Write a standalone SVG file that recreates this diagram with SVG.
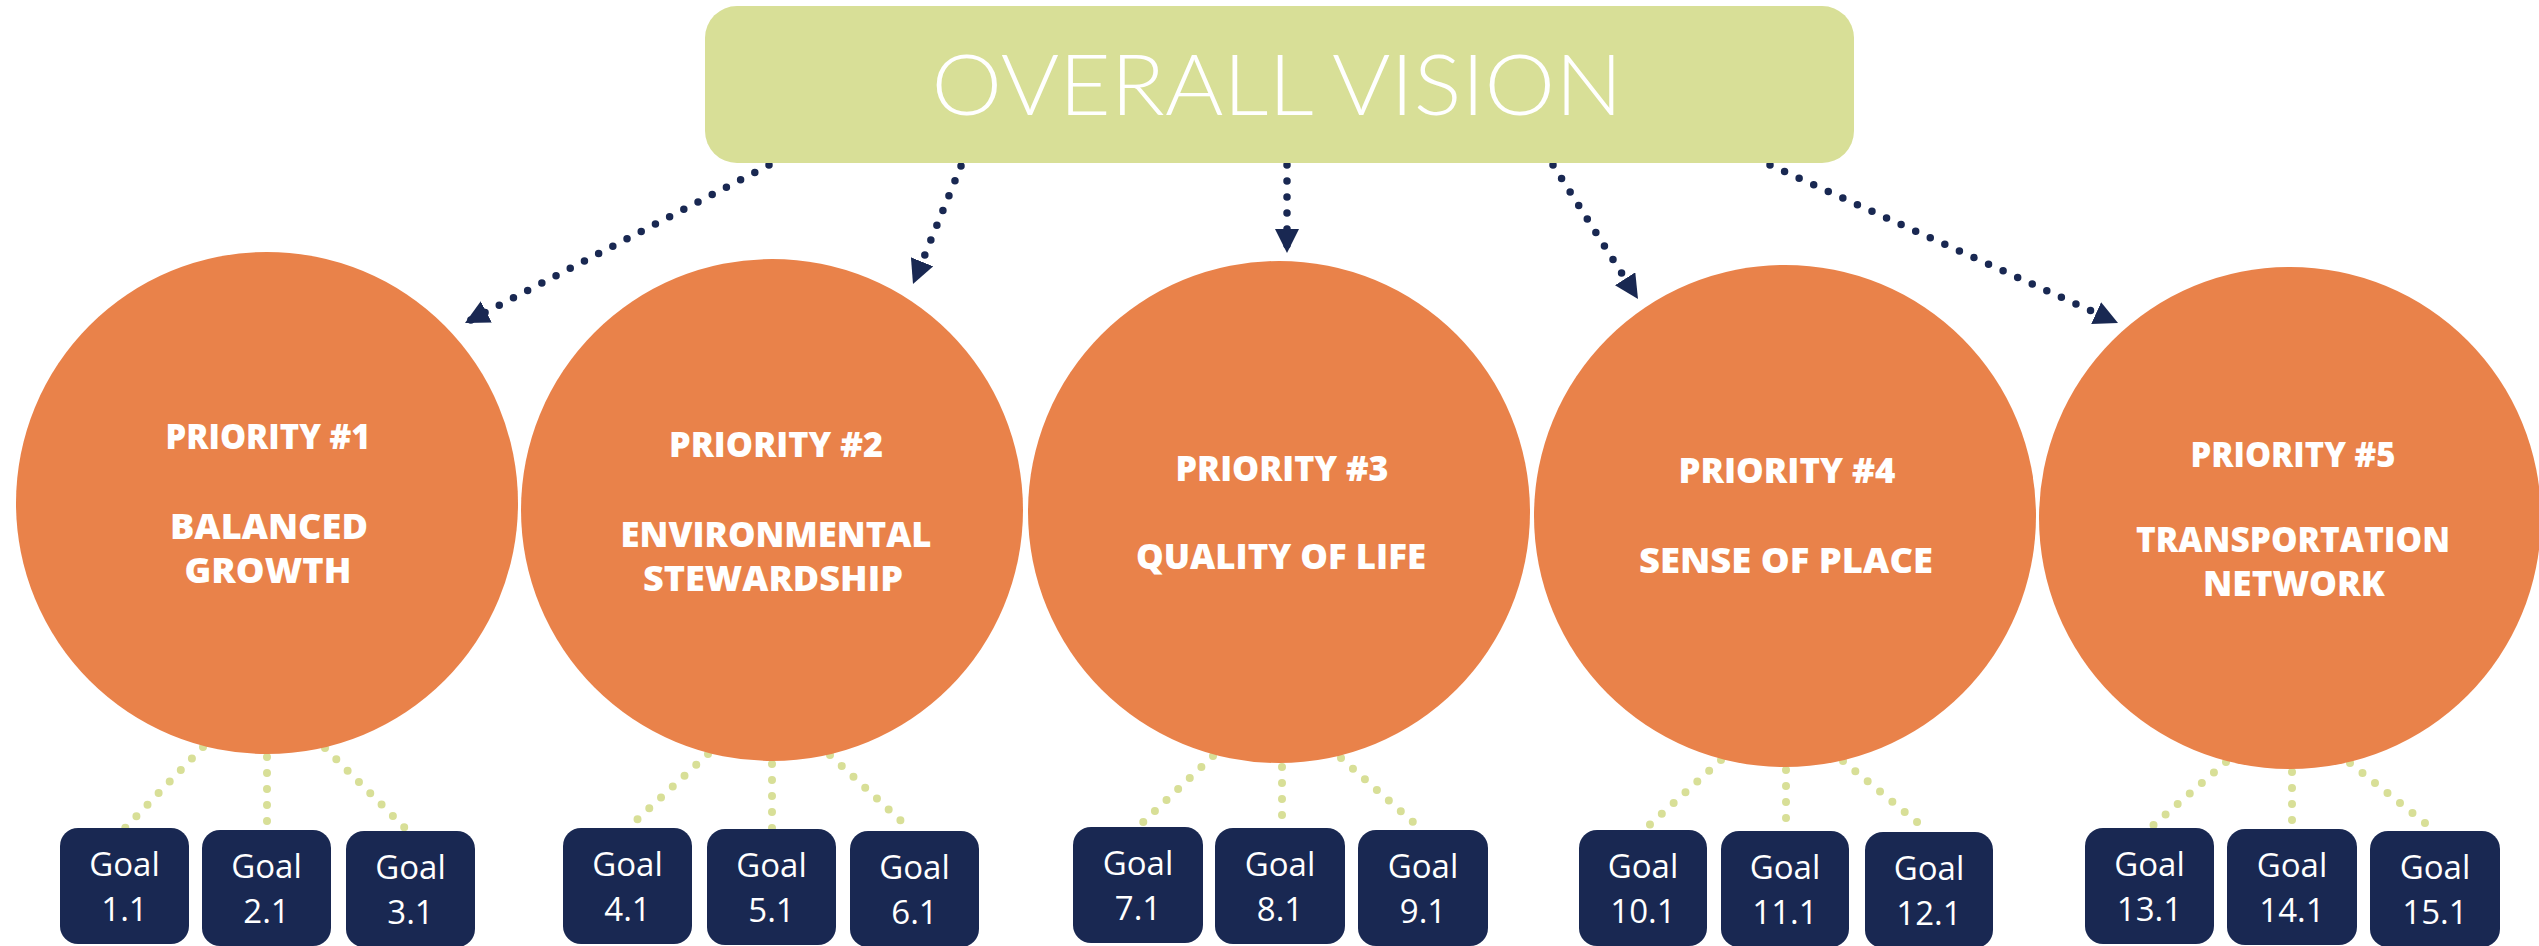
<svg xmlns="http://www.w3.org/2000/svg" width="2539" height="946" viewBox="0 0 2539 946">
<style>
.bg{fill:#ffffff}
.vision{fill:#d8df97}
.vtext{fill:#ffffff;font-family:Lato,"Open Sans","Liberation Sans",sans-serif;font-weight:300;font-size:84px}
.prio{fill:#e9824a}
.ptext{fill:#ffffff;font-family:"Open Sans","Liberation Sans",sans-serif;font-weight:800;font-size:36px}
.goal{fill:#192852}
.gtext{fill:#ffffff;font-family:"Open Sans","Liberation Sans",sans-serif;font-weight:400;font-size:33px}
.arrow{fill:none;stroke:#192852;stroke-width:7.5;stroke-linecap:round;stroke-dasharray:0 16;marker-end:url(#head)}
.link{fill:none;stroke:#d8df97;stroke-width:8;stroke-linecap:round;stroke-dasharray:0 16}
</style>
<defs>
<marker id="head" markerUnits="userSpaceOnUse" markerWidth="24" markerHeight="24" viewBox="0 0 24 24" refX="24" refY="12" orient="auto">
<path d="M0,0 L24,12 L0,24 Z" fill="#192852"/>
</marker>
</defs>
<rect class="bg" x="0" y="0" width="2539" height="946"/>
<g id="connectors">
<path class="arrow" d="M769,165 L465,323"/>
<path class="arrow" d="M961,166 L913,284"/>
<path class="arrow" d="M1287,165 L1287,253"/>
<path class="arrow" d="M1553,165 L1638,299"/>
<path class="arrow" d="M1770,165 L2118,323"/>
<path class="link" d="M203,747 L125,828"/>
<path class="link" d="M267,757 L267,830"/>
<path class="link" d="M325,748 L408,831"/>
<path class="link" d="M708,754 L628,828"/>
<path class="link" d="M772,764 L772,829"/>
<path class="link" d="M830,755 L912,831"/>
<path class="link" d="M1213,756 L1138,827"/>
<path class="link" d="M1282,767 L1282,828"/>
<path class="link" d="M1341,758 L1422,830"/>
<path class="link" d="M1721,760 L1644,830"/>
<path class="link" d="M1786,770 L1786,831"/>
<path class="link" d="M1843,761 L1929,832"/>
<path class="link" d="M2226,762 L2150,828"/>
<path class="link" d="M2292,772 L2292,829"/>
<path class="link" d="M2350,763 L2435,831"/>
</g>
<g id="vision">
<rect class="vision" x="705" y="6" width="1149" height="157" rx="32" ry="32"/>
<text class="vtext" x="1277" y="115" text-anchor="middle" textLength="691" lengthAdjust="spacingAndGlyphs">OVERALL VISION</text>
</g>
<g id="priority1">
<circle class="prio" cx="267" cy="503" r="251"/>
<text class="ptext" x="268" y="449" text-anchor="middle" textLength="205" lengthAdjust="spacingAndGlyphs">PRIORITY #1</text>
<text class="ptext" x="269" y="539" text-anchor="middle" textLength="198" lengthAdjust="spacingAndGlyphs">BALANCED</text>
<text class="ptext" x="268" y="583" text-anchor="middle" textLength="167" lengthAdjust="spacingAndGlyphs">GROWTH</text>
</g>
<g id="priority2">
<circle class="prio" cx="772" cy="510" r="251"/>
<text class="ptext" x="776" y="457" text-anchor="middle" textLength="214" lengthAdjust="spacingAndGlyphs">PRIORITY #2</text>
<text class="ptext" x="776" y="547" text-anchor="middle" textLength="311" lengthAdjust="spacingAndGlyphs">ENVIRONMENTAL</text>
<text class="ptext" x="773" y="591" text-anchor="middle" textLength="260" lengthAdjust="spacingAndGlyphs">STEWARDSHIP</text>
</g>
<g id="priority3">
<circle class="prio" cx="1279" cy="512" r="251"/>
<text class="ptext" x="1282" y="481" text-anchor="middle" textLength="213" lengthAdjust="spacingAndGlyphs">PRIORITY #3</text>
<text class="ptext" x="1281" y="569" text-anchor="middle" textLength="290" lengthAdjust="spacingAndGlyphs">QUALITY OF LIFE</text>
</g>
<g id="priority4">
<circle class="prio" cx="1785" cy="516" r="251"/>
<text class="ptext" x="1787" y="483" text-anchor="middle" textLength="217" lengthAdjust="spacingAndGlyphs">PRIORITY #4</text>
<text class="ptext" x="1786" y="573" text-anchor="middle" textLength="294" lengthAdjust="spacingAndGlyphs">SENSE OF PLACE</text>
</g>
<g id="priority5">
<circle class="prio" cx="2290" cy="518" r="251"/>
<text class="ptext" x="2293" y="467" text-anchor="middle" textLength="205" lengthAdjust="spacingAndGlyphs">PRIORITY #5</text>
<text class="ptext" x="2293" y="552" text-anchor="middle" textLength="314" lengthAdjust="spacingAndGlyphs">TRANSPORTATION</text>
<text class="ptext" x="2294" y="596" text-anchor="middle" textLength="182" lengthAdjust="spacingAndGlyphs">NETWORK</text>
</g>
<g id="goal1-1"><rect class="goal" x="60" y="828" width="129" height="116" rx="18"/><text class="gtext" x="124.5" y="876" text-anchor="middle">Goal</text><text class="gtext" x="124.5" y="921" text-anchor="middle">1.1</text></g>
<g id="goal2-1"><rect class="goal" x="202" y="830" width="129" height="116" rx="18"/><text class="gtext" x="266.5" y="878" text-anchor="middle">Goal</text><text class="gtext" x="266.5" y="923" text-anchor="middle">2.1</text></g>
<g id="goal3-1"><rect class="goal" x="346" y="831" width="129" height="116" rx="18"/><text class="gtext" x="410.5" y="879" text-anchor="middle">Goal</text><text class="gtext" x="410.5" y="924" text-anchor="middle">3.1</text></g>
<g id="goal4-1"><rect class="goal" x="563" y="828" width="129" height="116" rx="18"/><text class="gtext" x="627.5" y="876" text-anchor="middle">Goal</text><text class="gtext" x="627.5" y="921" text-anchor="middle">4.1</text></g>
<g id="goal5-1"><rect class="goal" x="707" y="829" width="129" height="116" rx="18"/><text class="gtext" x="771.5" y="877" text-anchor="middle">Goal</text><text class="gtext" x="771.5" y="922" text-anchor="middle">5.1</text></g>
<g id="goal6-1"><rect class="goal" x="850" y="831" width="129" height="116" rx="18"/><text class="gtext" x="914.5" y="879" text-anchor="middle">Goal</text><text class="gtext" x="914.5" y="924" text-anchor="middle">6.1</text></g>
<g id="goal7-1"><rect class="goal" x="1073" y="827" width="130" height="116" rx="18"/><text class="gtext" x="1138" y="875" text-anchor="middle">Goal</text><text class="gtext" x="1138" y="920" text-anchor="middle">7.1</text></g>
<g id="goal8-1"><rect class="goal" x="1215" y="828" width="130" height="116" rx="18"/><text class="gtext" x="1280" y="876" text-anchor="middle">Goal</text><text class="gtext" x="1280" y="921" text-anchor="middle">8.1</text></g>
<g id="goal9-1"><rect class="goal" x="1358" y="830" width="130" height="116" rx="18"/><text class="gtext" x="1423" y="878" text-anchor="middle">Goal</text><text class="gtext" x="1423" y="923" text-anchor="middle">9.1</text></g>
<g id="goal10-1"><rect class="goal" x="1579" y="830" width="128" height="116" rx="18"/><text class="gtext" x="1643" y="878" text-anchor="middle">Goal</text><text class="gtext" x="1643" y="923" text-anchor="middle">10.1</text></g>
<g id="goal11-1"><rect class="goal" x="1721" y="831" width="128" height="116" rx="18"/><text class="gtext" x="1785" y="879" text-anchor="middle">Goal</text><text class="gtext" x="1785" y="924" text-anchor="middle">11.1</text></g>
<g id="goal12-1"><rect class="goal" x="1865" y="832" width="128" height="116" rx="18"/><text class="gtext" x="1929" y="880" text-anchor="middle">Goal</text><text class="gtext" x="1929" y="925" text-anchor="middle">12.1</text></g>
<g id="goal13-1"><rect class="goal" x="2085" y="828" width="129" height="116" rx="18"/><text class="gtext" x="2149.5" y="876" text-anchor="middle">Goal</text><text class="gtext" x="2149.5" y="921" text-anchor="middle">13.1</text></g>
<g id="goal14-1"><rect class="goal" x="2227" y="829" width="130" height="116" rx="18"/><text class="gtext" x="2292" y="877" text-anchor="middle">Goal</text><text class="gtext" x="2292" y="922" text-anchor="middle">14.1</text></g>
<g id="goal15-1"><rect class="goal" x="2370" y="831" width="130" height="116" rx="18"/><text class="gtext" x="2435" y="879" text-anchor="middle">Goal</text><text class="gtext" x="2435" y="924" text-anchor="middle">15.1</text></g>
</svg>
